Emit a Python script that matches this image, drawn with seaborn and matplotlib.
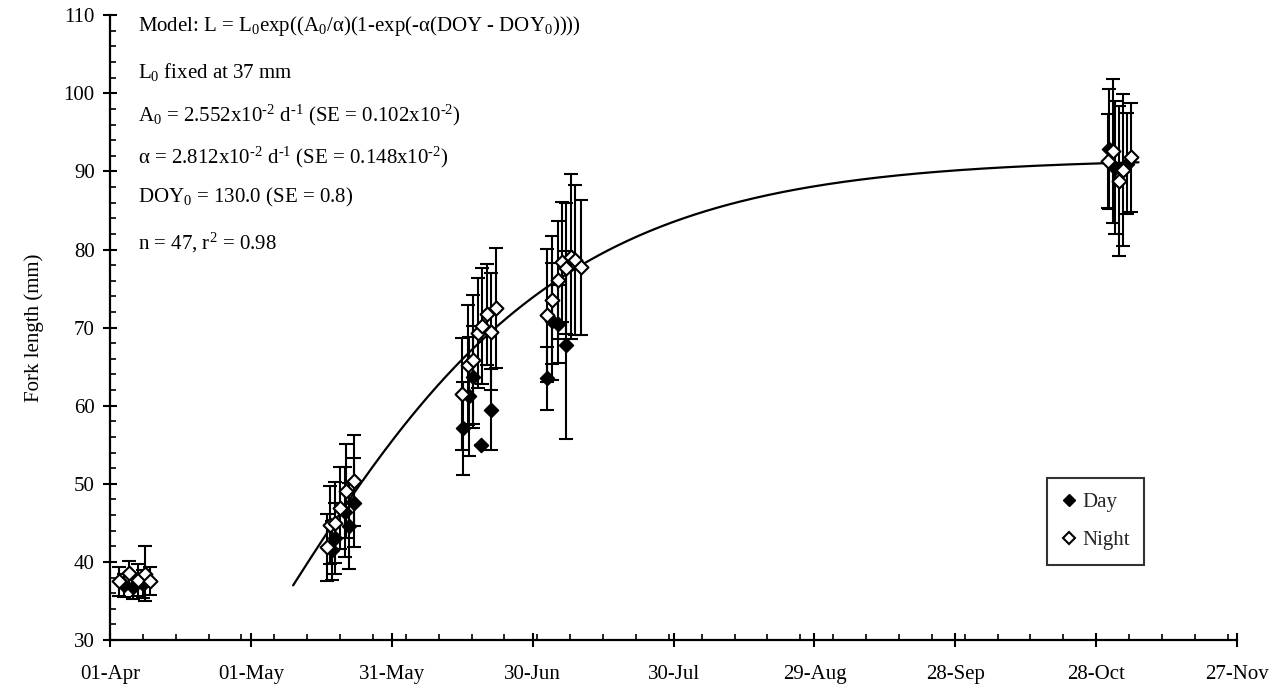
import numpy as np
import pandas as pd
import matplotlib
matplotlib.use("Agg")
import matplotlib.pyplot as plt
from matplotlib.lines import Line2D
from matplotlib.ticker import MultipleLocator, FixedLocator
import seaborn as sns

# Mean fork length (mm) and SD by day of year, day and night samples
day_doy = [94.0, 96.0, 98.0,
           138.3, 139.0, 141.1, 142.0, 142.9,
           166.2, 167.4, 168.3, 170.1, 172.2,
           184.0, 185.2, 186.3, 188.2,
           303.8, 305.0, 307.5]
day_len = [37.0, 36.8, 37.2,
           41.5, 43.0, 46.4, 44.6, 47.6,
           57.1, 61.2, 63.7, 55.0, 59.5,
           63.5, 70.8, 70.5, 67.8,
           92.9, 90.5, 91.0]
day_sd = [1.5, 1.6, 1.8,
          3.8, 4.5, 5.8, 5.5, 5.7,
          6.0, 7.6, 6.5, 0.0, 5.2,
          4.0, 7.5, 5.0, 12.0,
          7.7, 8.5, 6.5]

night_doy = [93.0, 95.0, 97.0, 98.5, 99.5,
             137.2, 137.9, 139.0, 140.0, 141.2, 143.0,
             166.0, 167.2, 168.3, 169.3, 170.2, 171.3, 172.1, 173.1,
             184.0, 185.2, 186.3, 187.3, 188.2, 189.1, 190.1, 191.2,
             303.5, 304.5, 305.8, 306.8, 308.3]
night_len = [37.5, 38.6, 37.7, 38.5, 37.6,
             41.9, 44.7, 45.0, 46.9, 49.1, 50.4,
             61.5, 65.2, 65.9, 69.3, 70.2, 71.7, 69.5, 72.5,
             71.6, 73.5, 76.1, 78.4, 77.6, 79.1, 78.7, 77.7,
             91.3, 92.6, 88.8, 90.2, 91.8]
night_sd = [1.8, 1.5, 2.0, 3.5, 1.8,
            4.3, 5.0, 5.2, 5.2, 6.0, 5.8,
            7.2, 7.7, 8.3, 7.0, 7.4, 6.5, 7.5, 7.7,
            8.5, 8.2, 7.5, 7.7, 8.4, 10.6, 9.6, 8.6,
            6.0, 9.2, 9.6, 9.7, 7.0]

# Fitted growth model parameters
L0 = 37.0
A0 = 2.552e-2
alpha = 2.812e-2
DOY0 = 130.0
curve_end = 310.0

tick_doy = [91, 121, 151, 181, 211, 241, 271, 301, 331]
tick_labels = ["01-Apr", "01-May", "31-May", "30-Jun", "30-Jul",
               "29-Aug", "28-Sep", "28-Oct", "27-Nov"]

annotations = [
    r"Model: L = L$_0$exp((A$_0$/α)(1-exp(-α(DOY - DOY$_0$))))",
    r"L$_0$ fixed at 37 mm",
    r"A$_0$ = 2.552x10$^{\text{-2}}$ d$^{\text{-1}}$ (SE = 0.102x10$^{\text{-2}}$)",
    r"α = 2.812x10$^{\text{-2}}$ d$^{\text{-1}}$ (SE = 0.148x10$^{\text{-2}}$)",
    r"DOY$_0$ = 130.0 (SE = 0.8)",
    r"n = 47, r$^2$ = 0.98",
]
annotation_y = [108.6, 102.7, 97.2, 91.8, 86.7, 80.8]

sns.set_theme(style="ticks")
plt.rcParams["font.family"] = ["Liberation Serif", "DejaVu Serif"]
plt.rcParams["mathtext.fontset"] = "custom"
plt.rcParams["mathtext.rm"] = "Liberation Serif"
plt.rcParams["mathtext.it"] = "Liberation Serif:italic"
plt.rcParams["mathtext.bf"] = "Liberation Serif:bold"

FS = 15

fig = plt.figure(figsize=(12.86, 6.92), dpi=100)
ax = fig.add_axes([0.0855, 0.0751, 0.8765, 0.9029])

day = pd.DataFrame({"doy": day_doy, "length": day_len, "sd": day_sd})
night = pd.DataFrame({"doy": night_doy, "length": night_len, "sd": night_sd})

# Model curve
doy_fit = np.linspace(DOY0, curve_end, 300)
len_fit = L0 * np.exp((A0 / alpha) * (1 - np.exp(-alpha * (doy_fit - DOY0))))
sns.lineplot(x=doy_fit, y=len_fit, ax=ax, color="black", linewidth=1.6,
             zorder=2, legend=False)

# Day series
ax.errorbar(day["doy"], day["length"], yerr=day["sd"], fmt="none",
            ecolor="black", elinewidth=1.5, capsize=5, capthick=1.5, zorder=3)
sns.scatterplot(data=day, x="doy", y="length", ax=ax, marker="D", s=50,
                color="black", edgecolor="black", linewidth=1.2, zorder=4,
                legend=False)

# Night series
ax.errorbar(night["doy"], night["length"], yerr=night["sd"], fmt="none",
            ecolor="black", elinewidth=1.5, capsize=5, capthick=1.5, zorder=5)
sns.scatterplot(data=night, x="doy", y="length", ax=ax, marker="D", s=50,
                color="white", edgecolor="black", linewidth=1.5, zorder=6,
                legend=False)

ax.set_xlim(91, 331)
ax.set_ylim(30, 110)
ax.xaxis.set_major_locator(FixedLocator(tick_doy))
ax.set_xticklabels(tick_labels)
ax.xaxis.set_minor_locator(FixedLocator(list(range(91, 332, 7))))
ax.yaxis.set_major_locator(MultipleLocator(10))
ax.yaxis.set_minor_locator(MultipleLocator(2))

for side in ("top", "right"):
    ax.spines[side].set_visible(False)
for side in ("left", "bottom"):
    ax.spines[side].set_linewidth(1.6)
    ax.spines[side].set_color("black")

ax.tick_params(which="major", direction="inout", length=10, width=1.5,
               labelsize=FS, colors="black", pad=6)
ax.tick_params(axis="x", which="major", pad=13)
ax.tick_params(which="minor", direction="in", length=4, width=1.2,
               colors="black")
ax.set_xlabel("")
ax.set_ylabel("Fork length (mm)", fontsize=FS, labelpad=14, color="black")
ax.grid(False)

for txt, yv in zip(annotations, annotation_y):
    ax.text(97, yv, txt, fontsize=FS, va="center", ha="left", color="black")

handles = [
    Line2D([], [], marker="D", linestyle="none", markersize=6.5,
           markerfacecolor="black", markeredgecolor="black", label="Day"),
    Line2D([], [], marker="D", linestyle="none", markersize=6.5,
           markerfacecolor="white", markeredgecolor="black",
           markeredgewidth=1.5, label="Night"),
]
leg = ax.legend(handles=handles, loc="lower left",
                bbox_to_anchor=(0.831, 0.12), frameon=True, fancybox=False,
                edgecolor="black", fontsize=FS, handlelength=0.7,
                handletextpad=0.3, labelspacing=0.9, borderpad=0.7,
                borderaxespad=0)
leg.get_frame().set_linewidth(1.5)

fig.savefig("out.png", dpi=100)
